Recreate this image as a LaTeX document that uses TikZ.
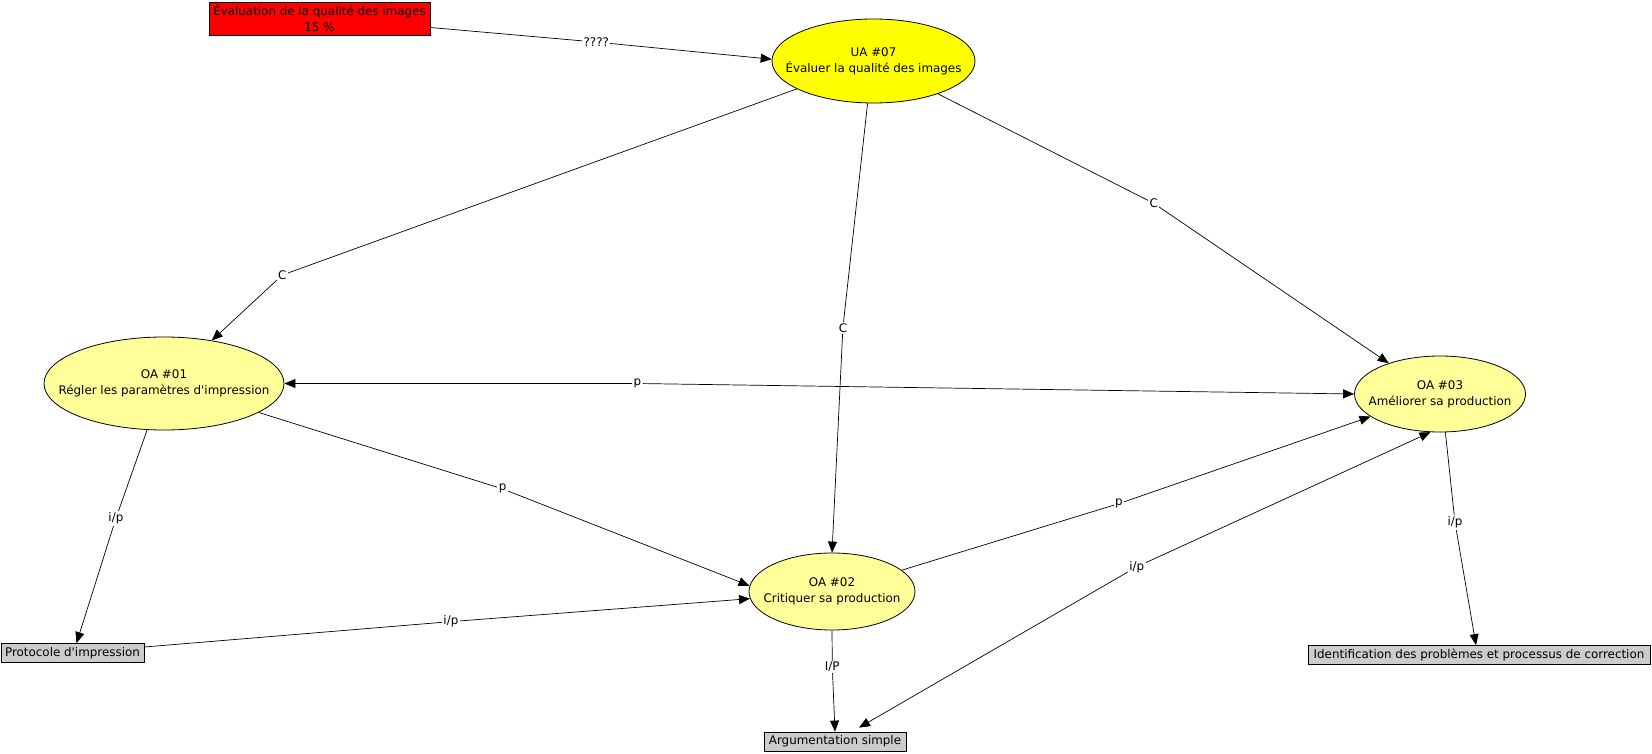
\documentclass[tikz,border=0pt]{standalone}
\usepackage{fontspec}
\newfontfamily\dvs{DejaVu Sans}
\usetikzlibrary{shapes.geometric,arrows.meta}
\definecolor{uayellow}{RGB}{255,255,0}
\definecolor{oayellow}{RGB}{255,255,153}
\definecolor{evalred}{RGB}{255,0,0}
\definecolor{resgray}{RGB}{204,204,204}
\begin{document}
\begin{tikzpicture}[x=1pt,y=-1pt,
  font=\dvs\fontsize{11.9}{16}\selectfont,
  every node/.style={align=center},
  uanode/.style={ellipse, draw, line width=0.8pt, fill=uayellow, inner sep=0pt},
  oanode/.style={ellipse, draw, line width=0.8pt, fill=oayellow, inner sep=0pt},
  txt/.style={inner sep=0pt},
  evalbox/.style={rectangle, draw, line width=0.8pt, fill=evalred, inner sep=0pt},
  resbox/.style={rectangle, draw, line width=0.8pt, fill=resgray, inner sep=0pt, minimum height=19pt},
  lbl/.style={fill=white, inner sep=1.5pt},
  arr/.style={line width=0.7pt, -{Triangle[length=11pt,width=9pt]}},
  darr/.style={line width=0.7pt, {Triangle[length=11pt,width=9pt]}-{Triangle[length=11pt,width=9pt]}}
]
\useasboundingbox (0,0) rectangle (1652,754);

% concepts
\node[evalbox, minimum width=221pt, minimum height=33pt] (eval) at (319.5,18.5) {Évaluation de la qualité des images\\15 \%};
\node[uanode, minimum width=203pt, minimum height=84pt] (ua) at (873.5,61) {};
\node[txt] (uat) at (ua.center) {UA \#07\\Évaluer la qualité des images};
\node[oanode, minimum width=240pt, minimum height=93pt] (oa1) at (164,383.5) {};
\node[txt] (oa1t) at (oa1.center) {OA \#01\\Régler les paramètres d'impression};
\node[oanode, minimum width=171pt, minimum height=76pt] (oa3) at (1440,394) {};
\node[txt] (oa3t) at (oa3.center) {OA \#03\\Améliorer sa production};
\node[oanode, minimum width=166pt, minimum height=77pt] (oa2) at (832,591.5) {};
\node[txt] (oa2t) at (oa2.center) {OA \#02\\Critiquer sa production};
\node[resbox, minimum width=143pt] (proto) at (72.5,653) {Protocole d'impression};
\node[resbox, minimum width=342pt] (ident) at (1479,655) {Identification des problèmes et processus de correction};
\node[resbox, minimum width=142pt] (argu) at (835,741.5) {Argumentation simple};

% label points
\coordinate (lq) at (596.3,42.1);
\coordinate (lc1) at (282.4,275);
\coordinate (lc2) at (842.9,327.7);
\coordinate (lc3) at (1153.7,203.3);
\coordinate (lp13) at (637.4,383.5);
\coordinate (lp12) at (502.6,488.9);
\coordinate (lp23) at (1118.9,503.6);
\coordinate (li1) at (115.9,518.4);
\coordinate (lip) at (450.9,621.6);
\coordinate (lIP) at (832.3,666.9);
\coordinate (li3a) at (1136.8,566.8);
\coordinate (li3) at (1455,522.6);

% connectors
\draw[arr] ([yshift=-9pt]eval.east) -- (lq) -- (ua.179);
\draw[arr] (ua.200) -- (lc1) -- (oa1.42);
\draw[arr] (ua.262) -- (lc2) -- (oa2.north);
\draw[arr] (ua.333) -- (lc3) -- (oa3.149);
\draw[darr] (oa1.east) -- (lp13) -- (oa3.west);
\draw[arr] (oa1.343) -- (lp12) -- (oa2.176);
\draw[arr] (oa2.17) -- (lp23) -- (oa3.198);
\draw[arr] (oa1.250) -- (li1) -- ([xshift=4pt]proto.north);
\draw[arr] ([yshift=6pt]proto.east) -- (lip) -- (oa2.185);
\draw[arr] (oa2.south) -- (lIP) -- (argu.north);
\draw[darr] ([xshift=24pt,yshift=4pt]argu.north) -- (li3a) -- (oa3.256);
\draw[arr] (oa3.278) -- (li3) -- ([xshift=-3pt]ident.north);

% labels
\node[lbl] at (lq) {????};
\node[lbl] at (lc1) {C};
\node[lbl] at (lc2) {C};
\node[lbl] at (lc3) {C};
\node[lbl] at (lp13) {p};
\node[lbl] at (lp12) {p};
\node[lbl] at (lp23) {p};
\node[lbl] at (li1) {i/p};
\node[lbl] at (lip) {i/p};
\node[lbl] at (lIP) {I/P};
\node[lbl] at (li3a) {i/p};
\node[lbl] at (li3) {i/p};
\end{tikzpicture}
\end{document}
